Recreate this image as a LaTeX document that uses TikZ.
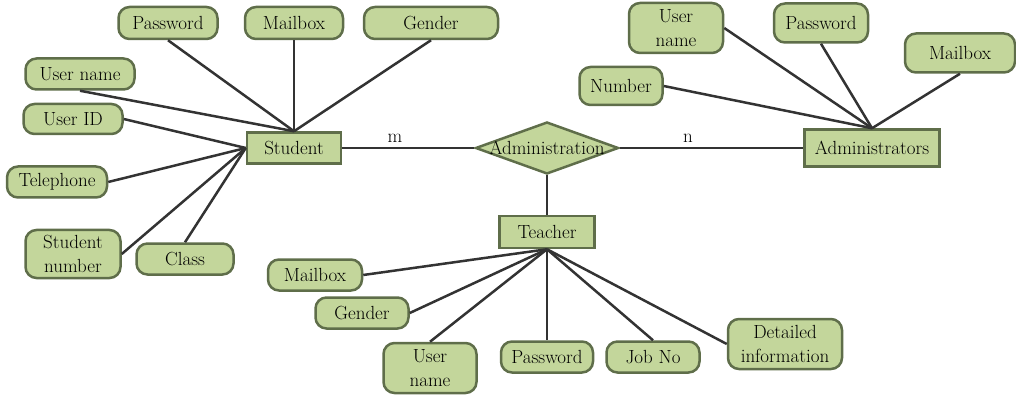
\documentclass[tikz,border=0pt]{standalone}
\usepackage{fontspec}
\usetikzlibrary{shapes.geometric}
\definecolor{attrfill}{HTML}{C3D69B}
\definecolor{attrborder}{HTML}{5F6E4A}
\definecolor{linkcol}{HTML}{333333}
\tikzset{
  txt/.style={font=\fontsize{19}{24}\selectfont, text=black},
  attr/.style={txt, draw=attrborder, fill=attrfill, line width=2.5pt, rounded corners=11pt, inner sep=0pt, align=center},
  entity/.style={txt, draw=attrborder, fill=attrfill, line width=2.5pt, inner sep=0pt},
  rel/.style={diamond, draw=attrborder, fill=attrfill, line width=2.5pt, inner sep=0pt},
  link/.style={draw=linkcol, line width=2.5pt},
}
\begin{document}
\begin{tikzpicture}[x=1pt,y=-1pt]
\useasboundingbox (0,0) rectangle (1016,395);
% entities and relation
\node[entity, minimum width=94pt, minimum height=31pt] (stu) at (294,148) {Student};
\node[entity, minimum width=135pt, minimum height=37pt] (adm) at (872,148) {Administrators};
\node[entity, minimum width=95pt, minimum height=32pt] (tea) at (547,232) {Teacher};
\node[rel, minimum width=143pt, minimum height=52pt] (rel) at (547,148) {};
\node[txt] (reltext) at (rel.center) {Administration};
\node[txt] (lm) at (395,138) {m};
\node[txt] (ln) at (688,138) {n};
% student attributes
\node[attr, minimum width=99pt, minimum height=32pt] (spw) at (168,23) {Password};
\node[attr, minimum width=98pt, minimum height=32pt] (smail) at (294,23) {Mailbox};
\node[attr, minimum width=134pt, minimum height=32pt] (sgen) at (431,23) {Gender};
\node[attr, minimum width=109pt, minimum height=31pt] (suser) at (80,74) {User name};
\node[attr, minimum width=99pt, minimum height=30pt] (suid) at (73,119) {User ID};
\node[attr, minimum width=100pt, minimum height=31pt] (stel) at (57,182) {Telephone};
\node[attr, minimum width=95pt, minimum height=48pt] (snum) at (73,254) {Student\\number};
\node[attr, minimum width=97pt, minimum height=31pt] (scls) at (185,259) {Class};
% administrator attributes
\node[attr, minimum width=94pt, minimum height=50pt] (auser) at (676,28) {User\\name};
\node[attr, minimum width=94pt, minimum height=39pt] (apw) at (821,23) {Password};
\node[attr, minimum width=110pt, minimum height=39pt] (amail) at (960,53) {Mailbox};
\node[attr, minimum width=83pt, minimum height=38pt] (anum) at (621,86) {Number};
% teacher attributes
\node[attr, minimum width=94pt, minimum height=31pt] (tmail) at (315,275) {Mailbox};
\node[attr, minimum width=93pt, minimum height=31pt] (tgen) at (362,313) {Gender};
\node[attr, minimum width=93pt, minimum height=50pt] (tuser) at (430,368) {User\\name};
\node[attr, minimum width=92pt, minimum height=31pt] (tpw) at (547,357) {Password};
\node[attr, minimum width=93pt, minimum height=31pt] (tjob) at (653,357) {Job No};
\node[attr, minimum width=114pt, minimum height=50pt] (tdet) at (785,344) {Detailed\\information};
% connectors
\draw[link] (stu.east) -- (rel.west);
\draw[link] (rel.east) -- (adm.west);
\draw[link] (rel.south) -- (tea.north);
\draw[link] (spw.south) -- (stu.north);
\draw[link] (smail.south) -- (stu.north);
\draw[link] (sgen.south) -- (stu.north);
\draw[link] (suser.south) -- (stu.north);
\draw[link] (suid.east) -- (stu.west);
\draw[link] (stel.east) -- (stu.west);
\draw[link] (snum.east) -- (stu.west);
\draw[link] (scls.north) -- (stu.west);
\draw[link] (auser.east) -- (adm.north);
\draw[link] (apw.south) -- (adm.north);
\draw[link] (amail.south) -- (adm.north);
\draw[link] (anum.east) -- (adm.north);
\draw[link] (tea.south) -- (tmail.east);
\draw[link] (tea.south) -- (tgen.east);
\draw[link] (tea.south) -- (tuser.north);
\draw[link] (tea.south) -- (tpw.north);
\draw[link] (tea.south) -- (tjob.north);
\draw[link] (tea.south) -- (tdet.west);
\end{tikzpicture}
\end{document}
